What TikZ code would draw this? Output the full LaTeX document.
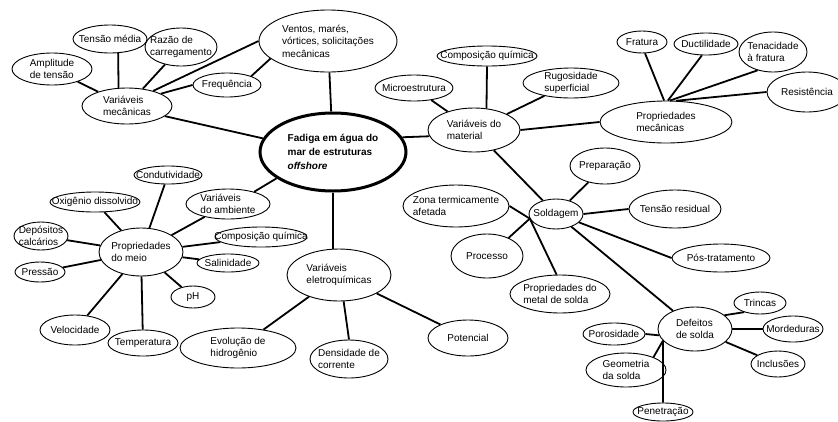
\documentclass[tikz,border=0pt]{standalone}
\usepackage{fontspec}
\setmainfont{Liberation Sans}
\usetikzlibrary{shapes.geometric}
\tikzset{bub/.style 2 args={ellipse, draw, line width=0.9pt, fill=white, inner xsep=-30pt, inner ysep=-20pt,
    minimum width=#1, minimum height=#2, align=left, font=\fontsize{10}{12.5}\selectfont}}
\tikzstyle{hub}=[ellipse, draw, line width=3pt, fill=white, inner xsep=-30pt, inner ysep=-20pt,
    minimum width=146, minimum height=78, align=left, font=\fontsize{10}{14}\selectfont\bfseries]
\tikzstyle{link}=[draw=black, line width=1.8pt]

\begin{document}
\begin{tikzpicture}[x=1pt,y=-1pt]
    \useasboundingbox (0,0) rectangle (838,421);

    % centro
    \node[hub] (c) at (333,152) {Fadiga em água do\\mar de estruturas\\\textit{offshore}};

    % variaveis mecanicas
    \node[bub={138}{62}] (ven) at (328,41) {Ventos, marés,\\vórtices, solicitações\\mecânicas};
    \node[bub={90}{36}] (mec) at (127,106) {Variáveis\\mecânicas};
    \node[bub={74}{28}] (tmed) at (110,39) {Tensão média};
    \node[bub={72}{38}] (raz) at (181,47) {Razão de\\carregamento};
    \node[bub={80}{32}] (amp) at (52,69) {Amplitude\\de tensão};
    \node[bub={68}{24}] (freq) at (227,85) {Frequência};

    % variaveis do material
    \node[bub={92}{44}] (mat) at (474,130) {Variáveis do\\material};
    \node[bub={78}{26}] (micro) at (414,88) {Microestrutura};
    \node[bub={100}{20}] (compm) at (487,56) {Composição química};
    \node[bub={96}{30}] (rug) at (571,83) {Rugosidade\\superficial};
    \node[bub={132}{42}] (pmec) at (666,122) {Propriedades\\mecânicas};
    \node[bub={50}{22}] (frat) at (642,42) {Fratura};
    \node[bub={64}{22}] (duct) at (706,44) {Ductilidade};
    \node[bub={68}{40}] (ten) at (773,52) {Tenacidade\\à fratura};
    \node[bub={80}{40}] (res) at (807,92) {Resistência};

    % soldagem
    \node[bub={54}{30}] (sold) at (556,214) {Soldagem};
    \node[bub={70}{36}] (prep) at (605,166) {Preparação};
    \node[bub={92}{38}] (tres) at (675,209) {Tensão residual};
    \node[bub={98}{28}] (pos) at (721,258) {Pós-tratamento};
    \node[bub={106}{42}] (zta) at (456,206) {Zona termicamente\\afetada};
    \node[bub={72}{44}] (proc) at (487,256) {Processo};
    \node[bub={100}{38}] (pms) at (560,294) {Propriedades do\\metal de solda};

    % defeitos
    \node[bub={74}{44}] (def) at (695,329) {Defeitos\\de solda};
    \node[bub={52}{22}] (trin) at (760,303) {Trincas};
    \node[bub={60}{26}] (mord) at (793,329) {Mordeduras};
    \node[bub={54}{26}] (incl) at (778,364) {Inclusões};
    \node[bub={62}{22}] (poro) at (614,334) {Porosidade};
    \node[bub={80}{34}] (geo) at (626,370) {Geometria\\da solda};
    \node[bub={60}{18}] (pen) at (663,412) {Penetração};

    % ambiente
    \node[bub={84}{30}] (amb) at (228,204) {Variáveis\\do ambiente};
    \node[bub={84}{48}] (pmeio) at (141,252) {Propriedades\\do meio};
    \node[bub={68}{18}] (cond) at (168,175) {Condutividade};
    \node[bub={90}{20}] (oxi) at (95,202) {Oxigênio dissolvido};
    \node[bub={54}{28}] (dep) at (41,236) {Depósitos\\calcários};
    \node[bub={50}{20}] (pres) at (40,272) {Pressão};
    \node[bub={92}{20}] (compa) at (261,237) {Composição química};
    \node[bub={62}{18}] (sal) at (228,263) {Salinidade};
    \node[bub={44}{22}] (ph) at (193,297) {pH};
    \node[bub={70}{30}] (vel) at (75,330) {Velocidade};
    \node[bub={70}{26}] (temp) at (143,343) {Temperatura};

    % eletroquimicas
    \node[bub={104}{52}] (ele) at (339,275) {Variáveis\\eletroquímicas};
    \node[bub={116}{40}] (evo) at (238,348) {Evolução de\\hidrogênio};
    \node[bub={78}{38}] (dens) at (349,359) {Densidade de\\corrente};
    \node[bub={80}{36}] (pot) at (468,338) {Potencial};

    \begin{scope}[every path/.style={link}]
        \path (amp) -- (mec);
        \path (tmed.-60) -- (mec.115);
        \path (raz) -- (mec);
        \path (mec.30) -- (ven.west);
        \path (mec.20) -- (freq.west);
        \path (freq.20) -- (ven.197);
        \path (mec.-15) -- (c.169);
        \path (ven) -- (c);

        \path (c.12) -- (mat.188);
        \path (micro) -- (mat);
        \path (compm.south) -- (mat.60);
        \path (rug) -- (mat);
        \path (mat.east) -- (pmec.west);
        \path (pmec.95) -- (frat.-75);
        \path (pmec.85) -- (duct.-110);
        \path (pmec.80) -- (ten.-130);
        \path (pmec.65) -- (res.west);

        \path (mat) -- (sold);
        \path (sold) -- (prep);
        \path (sold.east) -- (tres.west);
        \path (sold.-20) -- (pos.west);
        \path (sold.190) -- (zta.east);
        \path (sold.190) -- (proc.40);
        \path (sold.190) -- (pms.100);
        \path (sold) -- (def);

        \path (def.25) -- (trin.210);
        \path (def.east) -- (mord.west);
        \path (def) -- (incl);
        \path (def.190) -- (poro.east);
        \path (def.200) -- (geo.25);
        \path (def.200) -- (pen.north);

        \path (amb.25) -- (c.205);
        \path (pmeio) -- (amb);
        \path (pmeio) -- (cond);
        \path (pmeio) -- (oxi);
        \path (pmeio) -- (dep);
        \path (pmeio) -- (pres);
        \path (pmeio) -- (compa);
        \path (pmeio) -- (sal);
        \path (pmeio) -- (ph);
        \path (pmeio) -- (vel);
        \path (pmeio) -- (temp);

        \path (c.south) -- (c.south |- ele.north);
        \path (ele) -- (evo);
        \path (ele.-80) -- (dens.north);
        \path (ele) -- (pot);
    \end{scope}
\end{tikzpicture}
\end{document}
